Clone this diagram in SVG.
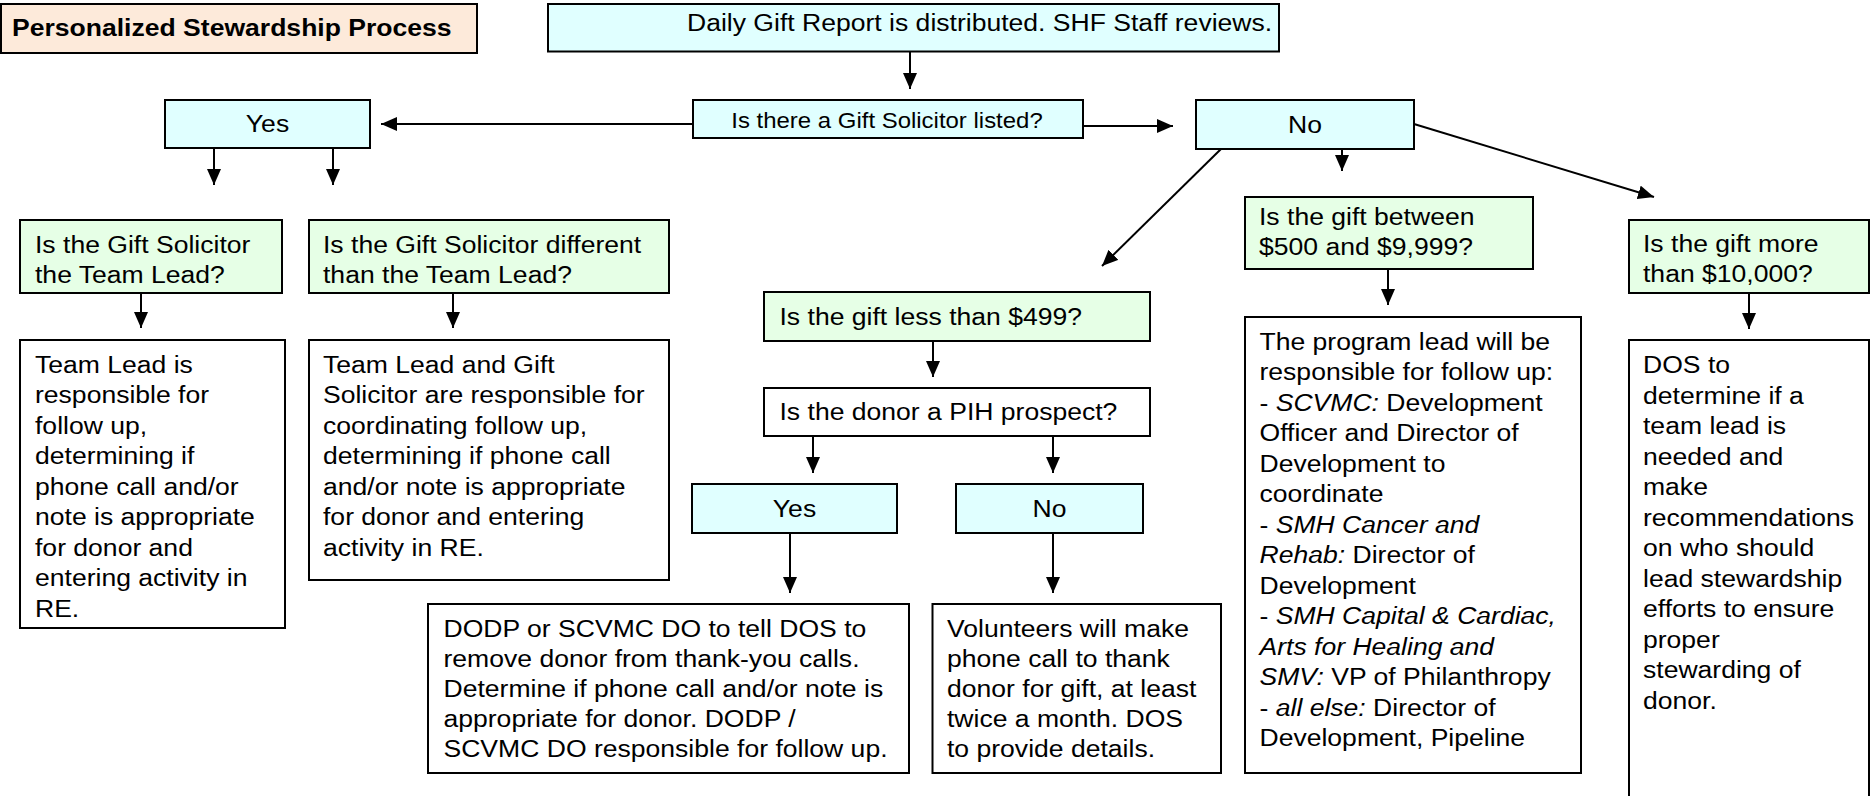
<svg xmlns="http://www.w3.org/2000/svg" width="1871" height="796" viewBox="0 0 1871 796">
<style>
.box{stroke:#000;stroke-width:2}
.cyan{fill:#E0FFFF}
.green{fill:#E6FFE6}
.white{fill:#FFFFFF}
.peach{fill:#FDEADA}
text{font-family:"Liberation Sans",Arial,Helvetica,sans-serif;font-size:23.5px;fill:#000}
.bold{font-weight:bold}
.sm{font-size:21.2px}
.mid{text-anchor:middle}
.it{font-style:italic}
#connectors line{stroke:#000;stroke-width:2;marker-end:url(#arr)}
</style>
<defs>
<marker id="arr" markerUnits="userSpaceOnUse" markerWidth="16" markerHeight="14" refX="16" refY="7" orient="auto">
<path d="M0,0 L16,7 L0,14 z" fill="#000"/>
</marker>
</defs>
<rect width="1871" height="796" fill="#FFFFFF"/>

<g id="connectors">
<line x1="910" y1="52" x2="910" y2="89"/>
<line x1="693" y1="124" x2="381" y2="124"/>
<line x1="1083" y1="126" x2="1173" y2="126"/>
<line x1="214" y1="148" x2="214" y2="185"/>
<line x1="333" y1="148" x2="333" y2="185"/>
<line x1="1221" y1="149" x2="1102" y2="266"/>
<line x1="1342" y1="149" x2="1342" y2="171"/>
<line x1="1414" y1="124" x2="1654" y2="197"/>
<line x1="141" y1="293" x2="141" y2="328"/>
<line x1="453" y1="293" x2="453" y2="328"/>
<line x1="933" y1="341" x2="933" y2="377"/>
<line x1="813" y1="436" x2="813" y2="473"/>
<line x1="1053" y1="436" x2="1053" y2="473"/>
<line x1="790" y1="533" x2="790" y2="593"/>
<line x1="1053" y1="533" x2="1053" y2="593"/>
<line x1="1388" y1="269" x2="1388" y2="305"/>
<line x1="1749" y1="293" x2="1749" y2="329"/>
</g>

<g id="title">
<rect class="box peach" x="1" y="4" width="476" height="49"/>
<text class="bold" transform="translate(12,0) scale(1.13,1)"><tspan x="0" y="36.5">Personalized Stewardship Process</tspan></text>
</g>

<g id="daily-report">
<rect class="box cyan" x="548" y="4" width="731" height="47.5"/>
<text transform="translate(687,0) scale(1.13,1)"><tspan x="0" y="31.5">Daily Gift Report is distributed. SHF Staff reviews.</tspan></text>
</g>

<g id="solicitor-listed">
<rect class="box cyan" x="693" y="100" width="390" height="38"/>
<text class="sm mid" transform="translate(887,0) scale(1.13,1)"><tspan x="0" y="128">Is there a Gift Solicitor listed?</tspan></text>
</g>

<g id="yes-top">
<rect class="box cyan" x="165" y="100" width="205" height="48"/>
<text class="mid" transform="translate(267.5,0) scale(1.13,1)"><tspan x="0" y="132.5">Yes</tspan></text>
</g>

<g id="no-top">
<rect class="box cyan" x="1196" y="100" width="218" height="49"/>
<text class="mid" transform="translate(1305,0) scale(1.13,1)"><tspan x="0" y="133">No</tspan></text>
</g>

<g id="q-team-lead">
<rect class="box green" x="20" y="220" width="262" height="73"/>
<text transform="translate(35,0) scale(1.13,1)"><tspan x="0" y="253">Is the Gift Solicitor</tspan><tspan x="0" y="283">the Team Lead?</tspan></text>
</g>

<g id="a-team-lead">
<rect class="box white" x="20" y="340" width="265" height="288"/>
<text transform="translate(35,0) scale(1.13,1)">
<tspan x="0" y="372.7">Team Lead is</tspan>
<tspan x="0" y="403.2">responsible for</tspan>
<tspan x="0" y="433.7">follow up,</tspan>
<tspan x="0" y="464.2">determining if</tspan>
<tspan x="0" y="494.7">phone call and/or</tspan>
<tspan x="0" y="525.2">note is appropriate</tspan>
<tspan x="0" y="555.7">for donor and</tspan>
<tspan x="0" y="586.2">entering activity in</tspan>
<tspan x="0" y="616.7">RE.</tspan>
</text>
</g>

<g id="q-different">
<rect class="box green" x="309" y="220" width="360" height="73"/>
<text transform="translate(323,0) scale(1.13,1)"><tspan x="0" y="253">Is the Gift Solicitor different</tspan><tspan x="0" y="283">than the Team Lead?</tspan></text>
</g>

<g id="a-different">
<rect class="box white" x="309" y="340" width="360" height="240"/>
<text transform="translate(323,0) scale(1.13,1)">
<tspan x="0" y="372.7">Team Lead and Gift</tspan>
<tspan x="0" y="403.2">Solicitor are responsible for</tspan>
<tspan x="0" y="433.7">coordinating follow up,</tspan>
<tspan x="0" y="464.2">determining if phone call</tspan>
<tspan x="0" y="494.7">and/or note is appropriate</tspan>
<tspan x="0" y="525.2">for donor and entering</tspan>
<tspan x="0" y="555.7">activity in RE.</tspan>
</text>
</g>

<g id="q-less-499">
<rect class="box green" x="764" y="292" width="386" height="49"/>
<text transform="translate(779.5,0) scale(1.13,1)"><tspan x="0" y="325">Is the gift less than $499?</tspan></text>
</g>

<g id="q-pih">
<rect class="box white" x="764" y="388" width="386" height="48"/>
<text transform="translate(779.5,0) scale(1.13,1)"><tspan x="0" y="420">Is the donor a PIH prospect?</tspan></text>
</g>

<g id="yes-pih">
<rect class="box cyan" x="692" y="484" width="205" height="49"/>
<text class="mid" transform="translate(794.5,0) scale(1.13,1)"><tspan x="0" y="516.7">Yes</tspan></text>
</g>

<g id="no-pih">
<rect class="box cyan" x="956" y="484" width="187" height="49"/>
<text class="mid" transform="translate(1049.5,0) scale(1.13,1)"><tspan x="0" y="516.7">No</tspan></text>
</g>

<g id="a-pih-yes">
<rect class="box white" x="428" y="604" width="481" height="169"/>
<text transform="translate(443.5,0) scale(1.13,1)">
<tspan x="0" y="636.7">DODP or SCVMC DO to tell DOS to</tspan>
<tspan x="0" y="666.7">remove donor from thank-you calls.</tspan>
<tspan x="0" y="696.7">Determine if phone call and/or note is</tspan>
<tspan x="0" y="726.7">appropriate for donor. DODP /</tspan>
<tspan x="0" y="756.7">SCVMC DO responsible for follow up.</tspan>
</text>
</g>

<g id="a-pih-no">
<rect class="box white" x="932.5" y="604" width="288.5" height="169"/>
<text transform="translate(947,0) scale(1.13,1)">
<tspan x="0" y="636.7">Volunteers will make</tspan>
<tspan x="0" y="666.7">phone call to thank</tspan>
<tspan x="0" y="696.7">donor for gift, at least</tspan>
<tspan x="0" y="726.7">twice a month. DOS</tspan>
<tspan x="0" y="756.7">to provide details.</tspan>
</text>
</g>

<g id="q-500-9999">
<rect class="box green" x="1245" y="197" width="288" height="72"/>
<text transform="translate(1259,0) scale(1.13,1)"><tspan x="0" y="225">Is the gift between</tspan><tspan x="0" y="255">$500 and $9,999?</tspan></text>
</g>

<g id="a-500-9999">
<rect class="box white" x="1245" y="317" width="336" height="456"/>
<text transform="translate(1259.5,0) scale(1.13,1)">
<tspan x="0" y="350">The program lead will be</tspan>
<tspan x="0" y="380.5">responsible for follow up:</tspan>
<tspan x="0" y="411">- <tspan class="it">SCVMC:</tspan> Development</tspan>
<tspan x="0" y="441.5">Officer and Director of</tspan>
<tspan x="0" y="472">Development to</tspan>
<tspan x="0" y="502.5">coordinate</tspan>
<tspan x="0" y="533">- <tspan class="it">SMH Cancer and</tspan></tspan>
<tspan x="0" y="563.5" class="it">Rehab:</tspan><tspan> Director of</tspan>
<tspan x="0" y="594">Development</tspan>
<tspan x="0" y="624.5">- <tspan class="it">SMH Capital &amp; Cardiac,</tspan></tspan>
<tspan x="0" y="655" class="it">Arts for Healing and</tspan>
<tspan x="0" y="685.5" class="it">SMV:</tspan><tspan> VP of Philanthropy</tspan>
<tspan x="0" y="716">- <tspan class="it">all else:</tspan> Director of</tspan>
<tspan x="0" y="746.5">Development, Pipeline</tspan>
</text>
</g>

<g id="q-10000">
<rect class="box green" x="1629" y="220" width="240" height="73"/>
<text transform="translate(1643,0) scale(1.13,1)"><tspan x="0" y="252">Is the gift more</tspan><tspan x="0" y="282">than $10,000?</tspan></text>
</g>

<g id="a-10000">
<rect class="box white" x="1629" y="340" width="240" height="470"/>
<text transform="translate(1643,0) scale(1.13,1)">
<tspan x="0" y="373.3">DOS to</tspan>
<tspan x="0" y="403.8">determine if a</tspan>
<tspan x="0" y="434.3">team lead is</tspan>
<tspan x="0" y="464.8">needed and</tspan>
<tspan x="0" y="495.3">make</tspan>
<tspan x="0" y="525.8">recommendations</tspan>
<tspan x="0" y="556.3">on who should</tspan>
<tspan x="0" y="586.8">lead stewardship</tspan>
<tspan x="0" y="617.3">efforts to ensure</tspan>
<tspan x="0" y="647.8">proper</tspan>
<tspan x="0" y="678.3">stewarding of</tspan>
<tspan x="0" y="708.8">donor.</tspan>
</text>
</g>
</svg>
